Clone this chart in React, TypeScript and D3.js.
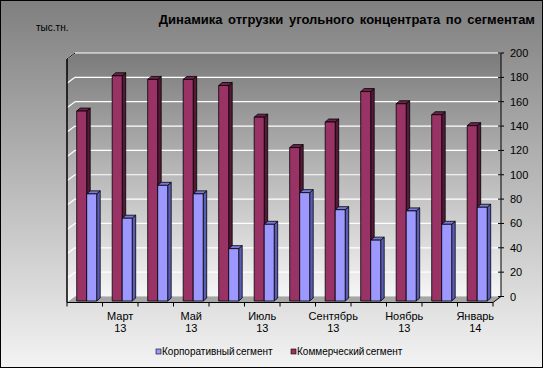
import React, { useEffect, useRef } from 'react';
import * as d3 from 'd3';

const months = ['Февраль', 'Март', 'Апрель', 'Май', 'Июнь', 'Июль', 'Август', 'Сентябрь', 'Октябрь', 'Ноябрь', 'Декабрь', 'Январь'];
const years = ['13', '13', '13', '13', '13', '13', '13', '13', '13', '13', '13', '14'];
const commercial = [156, 185, 182, 182, 177, 151, 126, 147, 172, 162, 153, 144];
const corporate = [88, 68, 95, 88, 43, 63, 89, 75, 50, 74, 63, 77];
const yTicks = [0, 20, 40, 60, 80, 100, 120, 140, 160, 180, 200];
const seriesNames = ['Корпоративный сегмент', 'Коммерческий сегмент'];

const W = 543;
const H = 368;

const App: React.FC = () => {
  const svgRef = useRef<SVGSVGElement>(null);

  useEffect(() => {
    if (!svgRef.current) return;
    const svg = d3.select(svgRef.current);
    svg.selectAll('*').remove();

    const font = "'Liberation Sans', Arial, sans-serif";
    // floor depth offset (front -> back)
    const dx = 8;
    const dy = -6;
    const frontLeft = 67;
    const frontRight = 493;
    const frontBase = 302.5;

    const x = d3.scaleBand<number>()
      .domain(d3.range(months.length))
      .range([frontLeft, frontRight])
      .padding(0);

    const y = d3.scaleLinear().domain([0, 200]).range([frontBase + dy, 53]);
    const backTop = y(200);
    const backBase = y(0);

    const sub = d3.scaleBand<string>().domain(['com', 'corp']).range([9.7, 29.7]);

    const defs = svg.append('defs');
    const bg = defs.append('linearGradient').attr('id', 'bg').attr('x1', 0).attr('y1', 0).attr('x2', 0).attr('y2', 1);
    bg.append('stop').attr('offset', '0%').attr('stop-color', '#7f7f7f');
    bg.append('stop').attr('offset', '100%').attr('stop-color', '#f3f3f3');

    const wall = defs.append('linearGradient').attr('id', 'wall').attr('x1', 0).attr('y1', 0).attr('x2', 0).attr('y2', 1);
    wall.append('stop').attr('offset', '0%').attr('stop-color', '#7b7b7b');
    wall.append('stop').attr('offset', '100%').attr('stop-color', '#f6f6f6');

    const dots = defs.append('pattern').attr('id', 'dots').attr('width', 4).attr('height', 4).attr('patternUnits', 'userSpaceOnUse');
    dots.append('rect').attr('width', 4).attr('height', 4).attr('fill', '#9999ff');
    dots.append('rect').attr('x', 1).attr('y', 1).attr('width', 1).attr('height', 1).attr('fill', '#cc88ee');

    // background + border
    svg.append('rect').attr('x', 0.5).attr('y', 0.5).attr('width', W - 1).attr('height', H - 1)
      .attr('fill', 'url(#bg)').attr('stroke', '#000');

    // back wall
    svg.append('rect')
      .attr('x', frontLeft + dx).attr('y', backTop)
      .attr('width', frontRight - frontLeft).attr('height', backBase - backTop)
      .attr('fill', 'url(#wall)');

    // left wall
    svg.append('polygon')
      .attr('points', [[frontLeft, backTop - dy], [frontLeft + dx, backTop], [frontLeft + dx, backBase], [frontLeft, frontBase]].join(' '))
      .attr('fill', 'url(#wall)');

    // gridlines
    yTicks.slice(1).forEach(t => {
      svg.append('line')
        .attr('x1', frontLeft + dx).attr('x2', frontRight + dx)
        .attr('y1', y(t)).attr('y2', y(t))
        .attr('stroke', '#ffffff').attr('stroke-width', 1.2);
      svg.append('line')
        .attr('x1', frontLeft).attr('y1', y(t) - dy)
        .attr('x2', frontLeft + dx).attr('y2', y(t))
        .attr('stroke', '#ffffff').attr('stroke-width', 1.2);
    });

    // floor
    svg.append('polygon')
      .attr('points', [[frontLeft, frontBase], [frontLeft + dx, backBase], [frontRight + dx, backBase], [frontRight, frontBase]].join(' '))
      .attr('fill', '#a6a6a6');

    // left wall edges
    svg.append('line')
      .attr('x1', frontLeft).attr('y1', backTop - dy).attr('x2', frontLeft).attr('y2', frontBase)
      .attr('stroke', '#000').attr('stroke-width', 1.5);
    svg.append('line')
      .attr('x1', frontLeft).attr('y1', backTop - dy).attr('x2', frontLeft + dx).attr('y2', backTop)
      .attr('stroke', '#000');

    // bars
    const bdx = 3.5;
    const bdy = -3;
    const barBase = frontBase - 1.5;
    const drawBar = (i: number, v: number, key: string, front: string, top: string, side: string) => {
      const bx = (x(i) as number) + (sub(key) as number);
      const bw = sub.bandwidth();
      const bt = barBase - (backBase - y(v));
      const g = svg.append('g').attr('stroke', '#000').attr('stroke-width', 0.8).attr('stroke-linejoin', 'round');
      g.append('polygon')
        .attr('points', [[bx + bw, bt], [bx + bw + bdx, bt + bdy], [bx + bw + bdx, barBase + bdy], [bx + bw, barBase]].join(' '))
        .attr('fill', side);
      g.append('polygon')
        .attr('points', [[bx, bt], [bx + bdx, bt + bdy], [bx + bw + bdx, bt + bdy], [bx + bw, bt]].join(' '))
        .attr('fill', top);
      g.append('rect')
        .attr('x', bx).attr('y', bt).attr('width', bw).attr('height', barBase - bt)
        .attr('fill', front);
    };
    months.forEach((_, i) => {
      drawBar(i, commercial[i], 'com', '#993366', '#6e2249', '#551a38');
      drawBar(i, corporate[i], 'corp', 'url(#dots)', '#7a7ad6', '#5c5cb8');
    });

    // x axis (front floor edge)
    svg.append('line')
      .attr('x1', frontLeft).attr('x2', frontRight).attr('y1', frontBase).attr('y2', frontBase)
      .attr('stroke', '#000');
    d3.range(months.length + 1).forEach(i => {
      const tx = i < months.length ? (x(i) as number) : frontRight;
      svg.append('line')
        .attr('x1', tx).attr('x2', tx).attr('y1', frontBase).attr('y2', frontBase + 4)
        .attr('stroke', '#000');
    });
    months.forEach((m, i) => {
      if (i % 2 === 0) return;
      const cx = (x(i) as number) + x.bandwidth() / 2;
      const t = svg.append('text')
        .attr('x', cx).attr('text-anchor', 'middle')
        .attr('font-family', font).attr('font-size', 11).attr('fill', '#000');
      t.append('tspan').attr('x', cx).attr('y', 320).text(m);
      t.append('tspan').attr('x', cx).attr('y', 332).text(years[i]);
    });

    // right value axis
    svg.append('line')
      .attr('x1', frontRight).attr('y1', frontBase).attr('x2', frontRight + dx).attr('y2', backBase)
      .attr('stroke', '#000');
    svg.append('line')
      .attr('x1', frontRight + dx).attr('x2', frontRight + dx).attr('y1', backTop).attr('y2', backBase)
      .attr('stroke', '#000');
    yTicks.forEach(t => {
      svg.append('line')
        .attr('x1', frontRight + dx - 3).attr('x2', frontRight + dx + 3)
        .attr('y1', y(t)).attr('y2', y(t))
        .attr('stroke', '#000');
      svg.append('text')
        .attr('x', frontRight + dx + 9).attr('y', y(t) + 4)
        .attr('font-family', font).attr('font-size', 11).attr('fill', '#000')
        .text(t);
    });

    // title + unit
    svg.append('text')
      .attr('x', 535).attr('y', 24).attr('text-anchor', 'end')
      .attr('font-family', font).attr('font-size', 13).attr('font-weight', 'bold')
      .attr('word-spacing', 2).attr('fill', '#000')
      .text('Динамика отгрузки угольного концентрата по сегментам');
    svg.append('text')
      .attr('x', 36).attr('y', 31)
      .attr('font-family', font).attr('font-size', 10).attr('fill', '#000')
      .text('тыс.тн.');

    // legend
    const legendColors = ['#9999ff', '#993366'];
    const legendX = [156, 291];
    seriesNames.forEach((name, i) => {
      svg.append('rect')
        .attr('x', legendX[i]).attr('y', 349).attr('width', 5).attr('height', 5)
        .attr('fill', legendColors[i]).attr('stroke', '#000').attr('stroke-width', 0.6);
      svg.append('text')
        .attr('x', legendX[i] + 6).attr('y', 355)
        .attr('font-family', font).attr('font-size', 10)
        .attr('word-spacing', -1.5).attr('fill', '#000')
        .text(name);
    });
  }, []);

  return (
    <svg ref={svgRef} width={W} height={H} viewBox={`0 0 ${W} ${H}`}
      style={{ position: 'absolute', left: 0, top: 0, display: 'block' }} />
  );
};

export default App;
